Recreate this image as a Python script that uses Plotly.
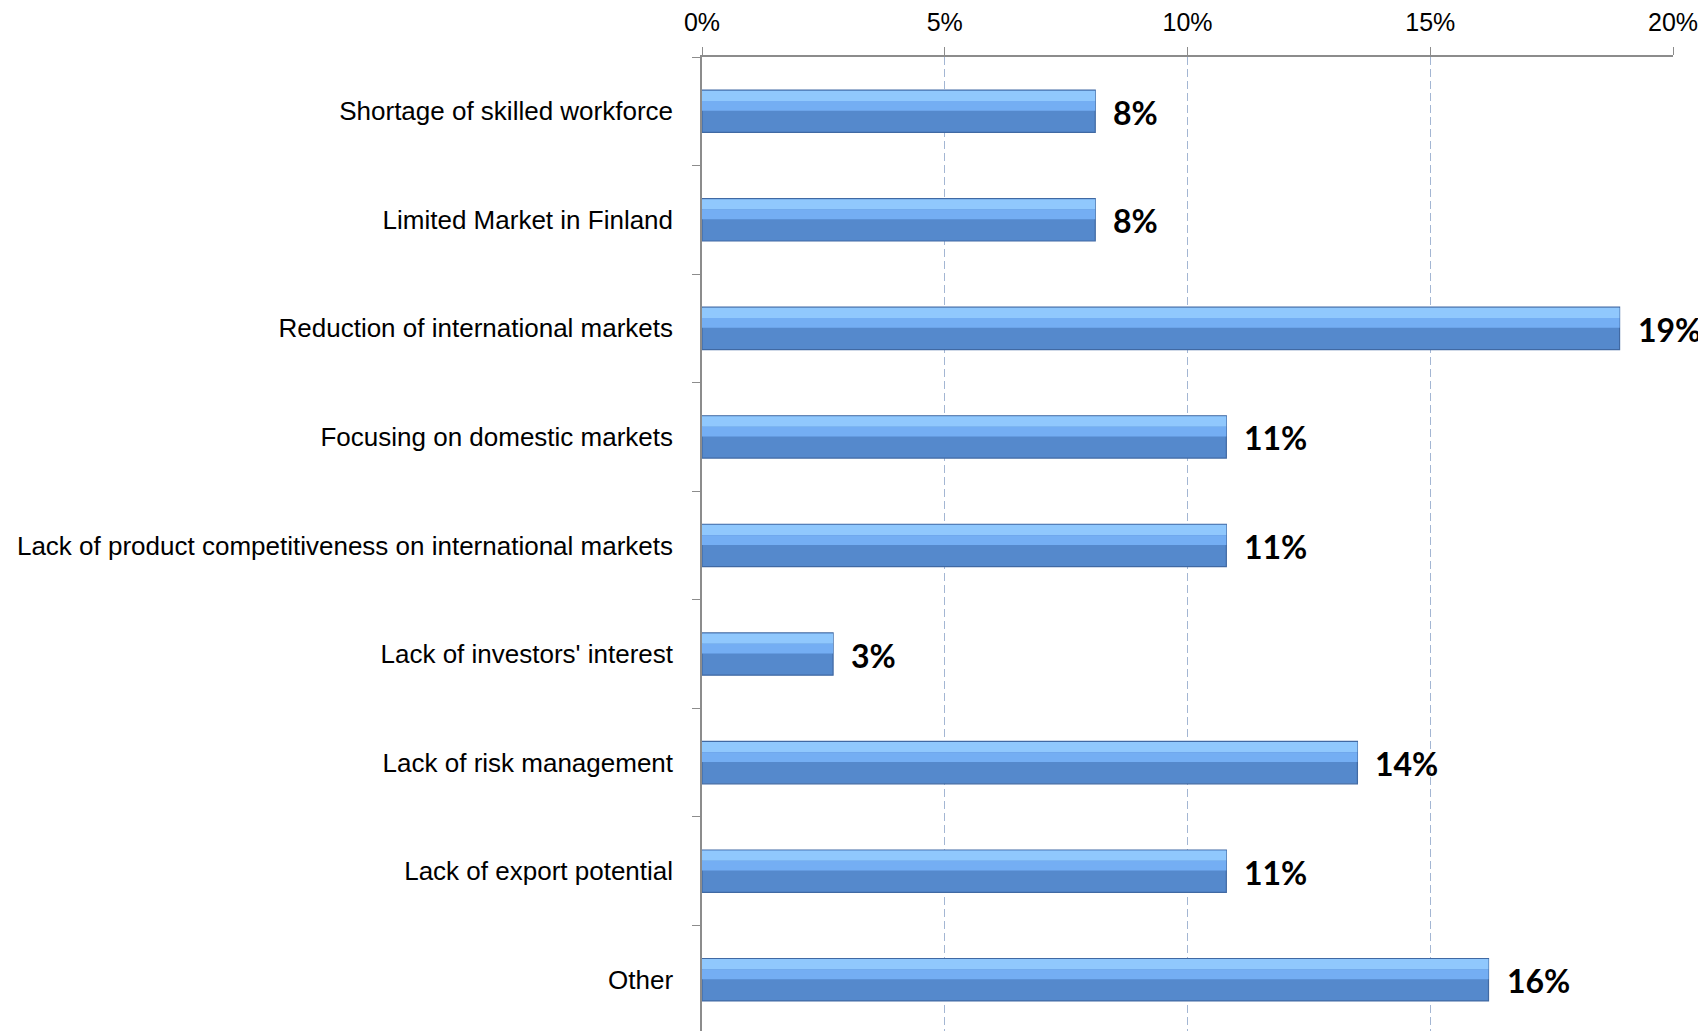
import plotly.graph_objects as go

categories = [
    "Shortage of skilled workforce",
    "Limited Market in Finland",
    "Reduction of international markets",
    "Focusing on domestic markets",
    "Lack of product competitiveness on international markets",
    "Lack of investors' interest",
    "Lack of risk management",
    "Lack of export potential",
    "Other",
]
values = [8.1, 8.1, 18.9, 10.8, 10.8, 2.7, 13.5, 10.8, 16.2]
x_ticks = [0, 5, 10, 15, 20]
x_tick_labels = ["0%", "5%", "10%", "15%", "20%"]
labels = [f"{round(v):.0f}%" for v in values]

LABEL_FONT = "Liberation Sans Narrow, Arial Narrow, Liberation Sans, Arial, sans-serif"

fig = go.Figure()
# main (darker) bar
fig.add_trace(go.Bar(
    y=categories, x=values, orientation="h", width=0.39,
    marker=dict(color="#5589CC", line=dict(color="#4069A3", width=1.2)),
    hoverinfo="skip",
))
# lighter upper half (bevel highlight) - two tones for a gradient look
fig.add_trace(go.Bar(
    y=categories, x=values, orientation="h", width=0.095, offset=-0.19,
    marker=dict(color="#90C8FD", line=dict(width=0)),
    hoverinfo="skip",
))
fig.add_trace(go.Bar(
    y=categories, x=values, orientation="h", width=0.09, offset=-0.095,
    marker=dict(color="#74AEF3", line=dict(width=0)),
    hoverinfo="skip",
))

for c, v, t in zip(categories, values, labels):
    fig.add_annotation(
        x=v, y=c, xref="x", yref="y", text=t, showarrow=False,
        xanchor="left", yanchor="middle", xshift=16, yshift=-1,
        font=dict(family="Lato, Open Sans, sans-serif", size=32, color="black", weight="bold"),
    )

fig.update_layout(
    width=1706, height=1031,
    barmode="overlay",
    showlegend=False,
    plot_bgcolor="white", paper_bgcolor="white",
    margin=dict(l=694, r=41, t=48.5, b=5, autoexpand=False),
)
fig.update_xaxes(
    side="top", range=[0, 20], tickvals=x_ticks, ticktext=x_tick_labels,
    showline=True, linecolor="#8C8C8C", linewidth=1.5,
    ticks="outside", ticklen=8, tickcolor="#8C8C8C",
    showgrid=True, gridcolor="#A3B6D3", griddash="8px,4px", gridwidth=1.2,
    zeroline=False, automargin=False,
    tickfont=dict(family=LABEL_FONT, size=25, color="black"),
    ticklabelstandoff=6,
)
fig.update_yaxes(
    type="category", categoryorder="array", categoryarray=categories,
    range=[8.5, -0.5], automargin=False,
    showline=True, linecolor="#8C8C8C", linewidth=1.5,
    ticks="outside", ticklen=8, tickcolor="#8C8C8C", tickson="boundaries",
    showgrid=False,
    tickfont=dict(family=LABEL_FONT, size=26, color="black"),
    ticklabelstandoff=22,
)

fig.write_html("out.html")
